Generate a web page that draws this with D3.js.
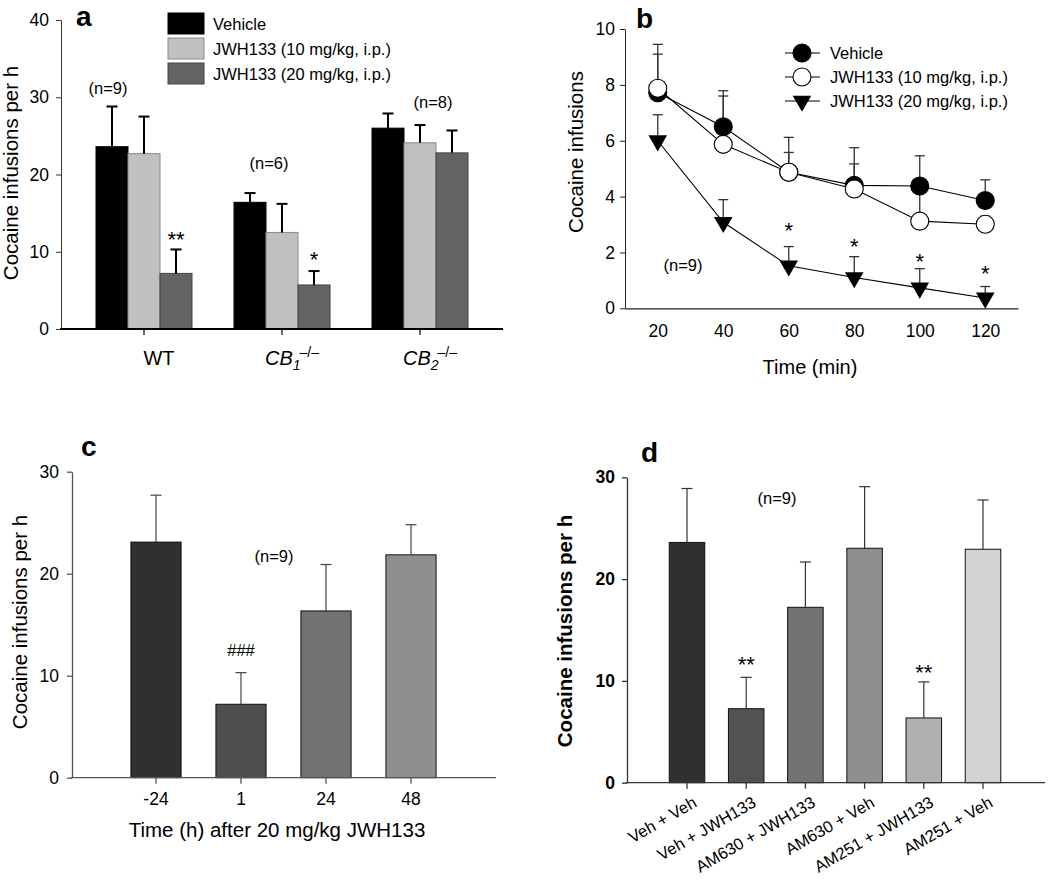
<!DOCTYPE html>
<html><head><meta charset="utf-8">
<script src="https://cdn.jsdelivr.net/npm/d3@7"></script>
<style>
html,body{margin:0;padding:0;background:#fff;}
svg{display:block;font-family:Arial,"Liberation Sans",sans-serif;}
</style></head>
<body>
<svg id="chart" width="1050" height="880"></svg>
<script>
// ---------- DATA ----------
// Panel a
const aGroups = ["WT", "CB1", "CB2"];
const aSeries = ["Vehicle", "JWH133 (10 mg/kg, i.p.)", "JWH133 (20 mg/kg, i.p.)"];
const aVehicle = [23.6, 16.4, 26.0];
const aVehicleTop = [28.8, 17.6, 27.9];
const aJwh10 = [22.7, 12.5, 24.1];
const aJwh10Top = [27.5, 16.2, 26.4];
const aJwh20 = [7.2, 5.7, 22.8];
const aJwh20Top = [10.3, 7.5, 25.7];
const aTicks = [0, 10, 20, 30, 40];
const aColors = ["#000000", "#c0c0c0", "#636363"];
const aStrokes = ["#000000", "#8a8a8a", "#444444"];

// Panel b
const bTimes = [20, 40, 60, 80, 100, 120];
const bSeries = ["Vehicle", "JWH133 (10 mg/kg, i.p.)", "JWH133 (20 mg/kg, i.p.)"];
const bVehicle = [7.72, 6.5, 4.87, 4.4, 4.38, 3.86];
const bVehicleTop = [9.1, 7.79, 6.12, 5.75, 5.46, 4.6];
const bJwh10 = [7.88, 5.87, 4.87, 4.27, 3.12, 3.01];
const bJwh10Top = [9.45, 7.6, 5.58, 5.17, 4.3, 3.3];
const bJwh20 = [6.0, 3.08, 1.52, 1.1, 0.73, 0.37];
const bJwh20Top = [6.93, 3.89, 2.21, 1.85, 1.42, 0.78];
const bYTicks = [0, 2, 4, 6, 8, 10];
const bXTicks = [20, 40, 60, 80, 100, 120];
const bStarTimes = [60, 80, 100, 120];
const bStarY = [2.51, 1.94, 1.42, 0.96];

// Panel c
const cCats = ["-24", "1", "24", "48"];
const cValues = [23.1, 7.2, 16.35, 21.85];
const cTops = [27.7, 10.3, 20.9, 24.8];
const cColors = ["#303030", "#4f4f4f", "#727272", "#8f8f8f"];
const cTicks = [0, 10, 20, 30];

// Panel d
const dCats = ["Veh + Veh", "Veh + JWH133", "AM630 + JWH133", "AM630 + Veh", "AM251 + JWH133", "AM251 + Veh"];
const dValues = [23.6, 7.27, 17.23, 23.03, 6.36, 22.93];
const dTops = [28.9, 10.35, 21.68, 29.08, 9.9, 27.77];
const dColors = ["#303030", "#525252", "#727272", "#8f8f8f", "#b0b0b0", "#d3d3d3"];
const dTicks = [0, 10, 20, 30];
const dStars = ["", "**", "", "", "**", ""];
const dStarY = [0, 10.83, 0, 0, 10.04, 0];

// ---------- DRAW ----------
const svg = d3.select("#chart");

function styleAxis(g, color, width, fontSize, bold) {
  g.select(".domain").attr("stroke", color).attr("stroke-width", width);
  g.selectAll(".tick line").attr("stroke", color).attr("stroke-width", width);
  g.selectAll(".tick text").attr("fill", "#000").style("font-size", fontSize + "px")
    .style("font-family", "Arial, 'Liberation Sans', sans-serif")
    .style("font-weight", bold ? "bold" : "normal");
}
function panelLabel(t, x, y) {
  svg.append("text").attr("x", x).attr("y", y).text(t)
    .style("font-size", "28px").style("font-weight", "bold");
}
function yTitle(t, x, y, bold) {
  svg.append("text").attr("transform", `translate(${x},${y}) rotate(-90)`)
    .attr("text-anchor", "middle").text(t)
    .style("font-size", "20.5px").style("font-weight", bold ? "bold" : "normal");
}

// ===== Panel a =====
(function () {
  const y = d3.scaleLinear().domain([0, 40]).range([329, 20]);
  const x0 = d3.scalePoint().domain(aGroups).range([144, 420]);
  const x1 = d3.scaleBand().domain(aSeries).range([-48, 48]);
  const vals = [aVehicle, aJwh10, aJwh20];
  const tops = [aVehicleTop, aJwh10Top, aJwh20Top];

  const g = svg.append("g");
  aSeries.forEach((s, si) => {
    aGroups.forEach((grp, gi) => {
      const bx = x0(grp) + x1(s);
      g.append("rect").attr("x", bx).attr("width", x1.bandwidth())
        .attr("y", y(vals[si][gi])).attr("height", y(0) - y(vals[si][gi]))
        .attr("fill", aColors[si]).attr("stroke", aStrokes[si]).attr("stroke-width", 1);
      const cx = bx + x1.bandwidth() / 2;
      g.append("line").attr("x1", cx).attr("x2", cx)
        .attr("y1", y(vals[si][gi])).attr("y2", y(tops[si][gi]))
        .attr("stroke", "#000").attr("stroke-width", 2);
      g.append("line").attr("x1", cx - 5.5).attr("x2", cx + 5.5)
        .attr("y1", y(tops[si][gi])).attr("y2", y(tops[si][gi]))
        .attr("stroke", "#000").attr("stroke-width", 2);
    });
  });
  // axes
  const ya = svg.append("g").attr("transform", "translate(61,0)")
    .call(d3.axisLeft(y).tickValues(aTicks).tickSize(5).tickPadding(7).tickSizeOuter(0));
  styleAxis(ya, "#333", 1, 17.5, false);
  svg.append("line").attr("x1", 60).attr("x2", 503).attr("y1", y(0)).attr("y2", y(0))
    .attr("stroke", "#000").attr("stroke-width", 2);
  aGroups.forEach(grp => {
    svg.append("line").attr("x1", x0(grp)).attr("x2", x0(grp)).attr("y1", y(0)).attr("y2", y(0) + 6)
      .attr("stroke", "#000").attr("stroke-width", 1.2);
  });
  // category labels
  const labY = 365;
  svg.append("text").attr("x", x0("WT") + 15).attr("y", labY).attr("text-anchor", "middle")
    .style("font-size", "20px").text("WT");
  [["CB1", "1"], ["CB2", "2"]].forEach(([k, n]) => {
    const t = svg.append("text").attr("x", x0(k) + 10).attr("y", labY).attr("text-anchor", "middle")
      .style("font-size", "20px").style("font-style", "italic");
    t.append("tspan").text("CB");
    t.append("tspan").attr("dy", 5).style("font-size", "14px").text(n);
    t.append("tspan").attr("dy", -13).attr("dx", -1).style("font-size", "14px").style("font-style", "normal").text("\u2013/\u2013");
  });
  // annotations
  const ann = svg.append("g").style("font-size", "16.5px").attr("text-anchor", "middle");
  ann.append("text").attr("x", x0("WT") - 36).attr("y", y(30.4)).text("(n=9)");
  ann.append("text").attr("x", x0("CB1") - 13).attr("y", y(20.7)).text("(n=6)");
  ann.append("text").attr("x", x0("CB2") + 13).attr("y", y(28.6)).text("(n=8)");
  const st = svg.append("g").style("font-size", "22px").attr("text-anchor", "middle");
  st.append("text").attr("x", x0("WT") + x1(aSeries[2]) + x1.bandwidth() / 2).attr("y", y(10.56)).text("**");
  st.append("text").attr("x", x0("CB1") + x1(aSeries[2]) + x1.bandwidth() / 2).attr("y", y(7.97)).text("*");
  // legend
  const lg = svg.append("g");
  aSeries.forEach((s, i) => {
    lg.append("rect").attr("x", 168).attr("y", 13 + i * 25).attr("width", 36).attr("height", 21)
      .attr("fill", aColors[i]).attr("stroke", aStrokes[i]);
    lg.append("text").attr("x", 213).attr("y", 30 + i * 25).style("font-size", "16.5px").text(s);
  });
  yTitle("Cocaine infusions per h", 18, 173, false);
  panelLabel("a", 76, 26);
})();

// ===== Panel b =====
(function () {
  const y = d3.scaleLinear().domain([0, 10]).range([308.3, 29]);
  const x = d3.scaleLinear().domain([10, 130]).range([625, 1018]);
  const vals = [bVehicle, bJwh10, bJwh20];
  const tops = [bVehicleTop, bJwh10Top, bJwh20Top];
  const g = svg.append("g");
  // error bars
  vals.forEach((v, si) => {
    v.forEach((d, i) => {
      const cx = x(bTimes[i]);
      g.append("line").attr("x1", cx).attr("x2", cx).attr("y1", y(d)).attr("y2", y(tops[si][i]))
        .attr("stroke", "#333").attr("stroke-width", 1.3);
      g.append("line").attr("x1", cx - 5).attr("x2", cx + 5).attr("y1", y(tops[si][i])).attr("y2", y(tops[si][i]))
        .attr("stroke", "#333").attr("stroke-width", 1.3);
    });
  });
  const line = d3.line().x((d, i) => x(bTimes[i])).y(d => y(d));
  vals.forEach(v => {
    g.append("path").attr("d", line(v)).attr("fill", "none").attr("stroke", "#000").attr("stroke-width", 1.1);
  });
  const tri = d3.symbol().type(d3.symbolTriangle).size(150);
  function marker(sel, si, cx, cy) {
    if (si === 2) {
      sel.append("path").attr("d", tri()).attr("transform", `translate(${cx},${cy}) rotate(180)`)
        .attr("fill", "#000");
    } else {
      sel.append("circle").attr("cx", cx).attr("cy", cy).attr("r", 9)
        .attr("fill", si === 0 ? "#000" : "#fff").attr("stroke", "#000").attr("stroke-width", 1.1);
    }
  }
  vals.forEach((v, si) => v.forEach((d, i) => marker(g, si, x(bTimes[i]), y(d))));
  // axes
  const ya = svg.append("g").attr("transform", "translate(625,0)")
    .call(d3.axisLeft(y).tickValues(bYTicks).tickSize(5).tickPadding(5).tickSizeOuter(0));
  styleAxis(ya, "#222", 1, 17.5, false);
  const xa = svg.append("g").attr("transform", `translate(0,${y(0)})`)
    .call(d3.axisBottom(x).tickValues(bXTicks).tickSize(0).tickPadding(16).tickSizeOuter(0));
  styleAxis(xa, "#222", 1.2, 17.5, false);
  // stars
  const st = svg.append("g").style("font-size", "22px").attr("text-anchor", "middle");
  bStarTimes.forEach((t, i) => st.append("text").attr("x", x(t)).attr("y", y(bStarY[i])).text("*"));
  svg.append("text").attr("x", 683).attr("y", y(1.34)).attr("text-anchor", "middle")
    .style("font-size", "16.5px").text("(n=9)");
  // legend
  const lg = svg.append("g");
  bSeries.forEach((s, i) => {
    const ly = 53 + i * 24;
    lg.append("line").attr("x1", 785).attr("x2", 820).attr("y1", ly).attr("y2", ly)
      .attr("stroke", "#000").attr("stroke-width", 1.1);
    marker(lg, i, 802, ly);
    lg.append("text").attr("x", 830).attr("y", ly + 6).style("font-size", "16.5px").text(s);
  });
  svg.append("text").attr("x", 810).attr("y", 374).attr("text-anchor", "middle")
    .style("font-size", "20px").text("Time (min)");
  yTitle("Cocaine infusions", 583, 152, false);
  panelLabel("b", 636, 28);
})();

// ===== Panel c =====
(function () {
  const y = d3.scaleLinear().domain([0, 30]).range([777.7, 471.7]);
  const x = d3.scaleBand().domain(cCats).range([113.5, 453.5]).paddingInner(0.41).paddingOuter(0.205);
  const g = svg.append("g");
  cCats.forEach((c, i) => {
    g.append("rect").attr("x", x(c)).attr("width", x.bandwidth()).attr("y", y(cValues[i]))
      .attr("height", y(0) - y(cValues[i])).attr("fill", cColors[i]).attr("stroke", "#111").attr("stroke-width", 1);
    const cx = x(c) + x.bandwidth() / 2;
    g.append("line").attr("x1", cx).attr("x2", cx).attr("y1", y(cValues[i])).attr("y2", y(cTops[i]))
      .attr("stroke", "#444").attr("stroke-width", 1.2);
    g.append("line").attr("x1", cx - 5.5).attr("x2", cx + 5.5).attr("y1", y(cTops[i])).attr("y2", y(cTops[i]))
      .attr("stroke", "#444").attr("stroke-width", 1.2);
  });
  const ya = svg.append("g").attr("transform", "translate(72,0)")
    .call(d3.axisLeft(y).tickValues(cTicks).tickSize(5).tickPadding(8).tickSizeOuter(0));
  styleAxis(ya, "#555", 1.3, 17.5, false);
  svg.append("line").attr("x1", 71).attr("x2", 496).attr("y1", y(0)).attr("y2", y(0))
    .attr("stroke", "#555").attr("stroke-width", 1.3);
  const xa = svg.append("g").attr("transform", `translate(0,${y(0)})`)
    .call(d3.axisBottom(x).tickSize(6).tickPadding(9).tickSizeOuter(0));
  xa.select(".domain").remove();
  styleAxis(xa, "#555", 1.3, 17.5, false);
  svg.append("text").attr("x", x("1") + x.bandwidth() / 2).attr("y", y(11.93)).attr("text-anchor", "middle")
    .style("font-size", "16.5px").text("###");
  svg.append("text").attr("x", 274).attr("y", y(21.1)).attr("text-anchor", "middle")
    .style("font-size", "16.5px").text("(n=9)");
  svg.append("text").attr("x", 277).attr("y", 837).attr("text-anchor", "middle")
    .style("font-size", "20.5px").text("Time (h) after 20 mg/kg JWH133");
  yTitle("Cocaine infusions per h", 27, 622, false);
  panelLabel("c", 81, 456);
})();

// ===== Panel d =====
(function () {
  const y = d3.scaleLinear().domain([0, 30]).range([782.7, 477.3]);
  const x = d3.scaleBand().domain(dCats).range([657.4, 1012.6]).paddingInner(0.4).paddingOuter(0.2);
  const g = svg.append("g");
  dCats.forEach((c, i) => {
    g.append("rect").attr("x", x(c)).attr("width", x.bandwidth()).attr("y", y(dValues[i]))
      .attr("height", y(0) - y(dValues[i])).attr("fill", dColors[i]).attr("stroke", "#111").attr("stroke-width", 1);
    const cx = x(c) + x.bandwidth() / 2;
    g.append("line").attr("x1", cx).attr("x2", cx).attr("y1", y(dValues[i])).attr("y2", y(dTops[i]))
      .attr("stroke", "#333").attr("stroke-width", 1.2);
    g.append("line").attr("x1", cx - 5.5).attr("x2", cx + 5.5).attr("y1", y(dTops[i])).attr("y2", y(dTops[i]))
      .attr("stroke", "#333").attr("stroke-width", 1.2);
    if (dStars[i]) {
      svg.append("text").attr("x", cx).attr("y", y(dStarY[i])).attr("text-anchor", "middle")
        .style("font-size", "22px").text(dStars[i]);
    }
  });
  const ya = svg.append("g").attr("transform", "translate(627,0)")
    .call(d3.axisLeft(y).tickValues(dTicks).tickSize(5).tickPadding(7).tickSizeOuter(0));
  styleAxis(ya, "#333", 1.3, 17.5, true);
  svg.append("line").attr("x1", 626).attr("x2", 1045).attr("y1", y(0)).attr("y2", y(0))
    .attr("stroke", "#333").attr("stroke-width", 1.3);
  const xa = svg.append("g").attr("transform", `translate(0,${y(0)})`)
    .call(d3.axisBottom(x).tickSize(6).tickSizeOuter(0));
  xa.select(".domain").remove();
  styleAxis(xa, "#333", 1.3, 16.5, false);
  xa.selectAll(".tick text").attr("text-anchor", "end").attr("dy", 0)
    .attr("transform", "translate(11,23) rotate(-30)").attr("y", 0).attr("x", 0);
  svg.append("text").attr("x", 777).attr("y", y(27.4)).attr("text-anchor", "middle")
    .style("font-size", "16.5px").text("(n=9)");
  yTitle("Cocaine infusions per h", 572, 631, true);
  panelLabel("d", 641, 462);
})();
</script>
</body></html>
